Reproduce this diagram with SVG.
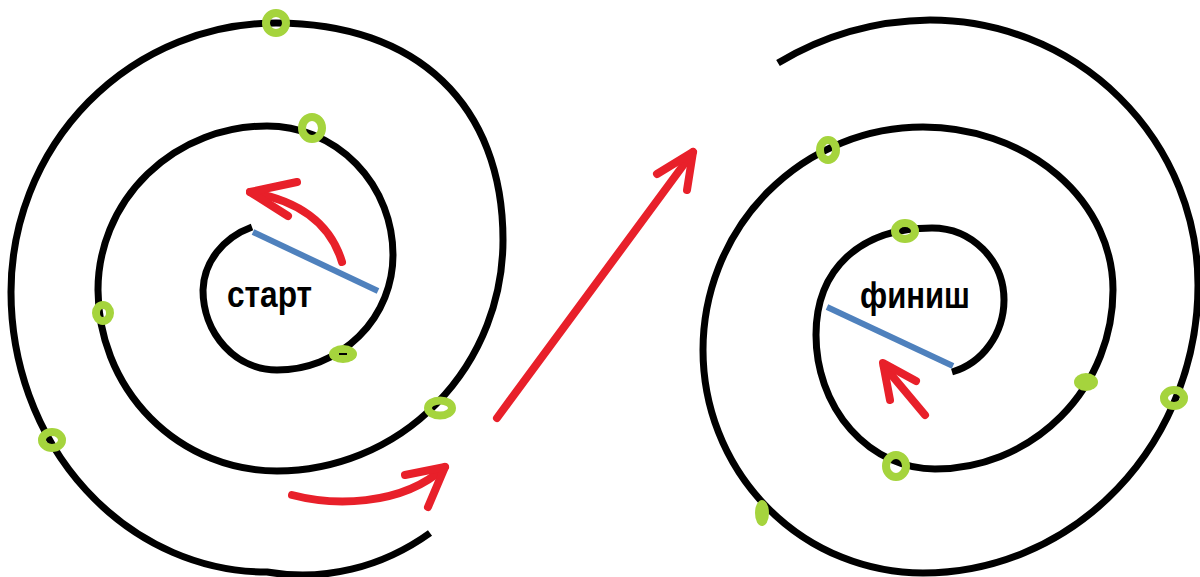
<svg xmlns="http://www.w3.org/2000/svg" width="1200" height="577" viewBox="0 0 1200 577">
<style>
.sp{fill:none;stroke:#000;stroke-width:7;stroke-linecap:butt}
.rad{stroke:#4f81bd;stroke-width:6}
.ring{fill:none;stroke:#a5d43d;stroke-width:8}
.blob{fill:#a5d43d}
.arr{fill:none;stroke:#e8202a;stroke-width:8;stroke-linecap:round;stroke-linejoin:round}
.lbl{font-family:"Liberation Sans",Arial,sans-serif;font-weight:bold;font-size:36px;fill:#000}
</style>
<rect width="1200" height="577" fill="#fff"/>
<g id="spiral-start">
<path class="sp" d="M 252 227 A 80 70 0 0 0 203 290 A 74 80 0 0 0 277 370 A 116 115 0 0 0 393 255 A 126 129 0 0 0 267 126 A 169 164 0 0 0 98 290 A 179 181 0 0 0 277 471 A 226 231 0 0 0 503 240 C 503 105 417 23 276 23 A 265 269 0 0 0 11 292 A 256 280 0 0 0 267 572 A 240 275 0 0 0 430 533"/>
<line class="rad" x1="253" y1="232" x2="378" y2="291"/>
<text class="lbl" x="227" y="307" textLength="85" lengthAdjust="spacingAndGlyphs">старт</text>
</g>
<g id="spiral-finish">
<path class="sp" d="M 952 372 A 70 75 0 0 0 1004 300 A 72 72 0 0 0 932 228 C 860 228 816 269 816 335 A 119 134 0 0 0 935 469 A 178 179 0 0 0 1113 290 A 190 163 0 0 0 923 127 A 220 223 0 0 0 703 350 A 220 223 0 0 0 923 573 A 275 288 0 0 0 1198 285 A 268 265 0 0 0 930 20 A 290 275 0 0 0 778 63"/>
<line class="rad" x1="827" y1="307" x2="953" y2="366"/>
<text class="lbl" x="860" y="308" textLength="110" lengthAdjust="spacingAndGlyphs">финиш</text>
</g>
<g id="points">
<ellipse class="ring" cx="276" cy="23" rx="10" ry="10"/>
<ellipse class="ring" cx="312" cy="128" rx="10" ry="11"/>
<ellipse class="ring" cx="103" cy="313" rx="7" ry="8"/>
<ellipse class="blob" cx="343" cy="354" rx="14" ry="9"/>
<line x1="339" y1="354" x2="347" y2="354" stroke="#000" stroke-width="2"/>
<ellipse class="ring" cx="440" cy="408" rx="12" ry="7.5"/>
<ellipse class="ring" cx="52" cy="440" rx="10" ry="8"/>
<ellipse class="ring" cx="828" cy="150" rx="8" ry="10"/>
<ellipse class="ring" cx="905" cy="231" rx="10" ry="8"/>
<ellipse class="ring" cx="896" cy="466" rx="10" ry="11"/>
<ellipse class="blob" cx="1086" cy="382" rx="12" ry="9"/>
<ellipse class="ring" cx="1174" cy="398" rx="10" ry="8"/>
<ellipse class="blob" cx="762" cy="513" rx="7" ry="13"/>
</g>
<g id="connectors">
<path class="arr" d="M 342 262 Q 325 205 250 192"/>
<path class="arr" d="M 297 182 L 250 192 L 288 216"/>
<path class="arr" d="M 292 495 C 330 505 400 508 445 467"/>
<path class="arr" d="M 405 475 L 445 467 L 428 507"/>
<path class="arr" d="M 497 418 L 693 152"/>
<path class="arr" d="M 657 174 L 693 152 L 687 190"/>
<path class="arr" d="M 925 415 L 884 366"/>
<path class="arr" d="M 890 400 L 883 363 L 916 381"/>
</g>
</svg>
